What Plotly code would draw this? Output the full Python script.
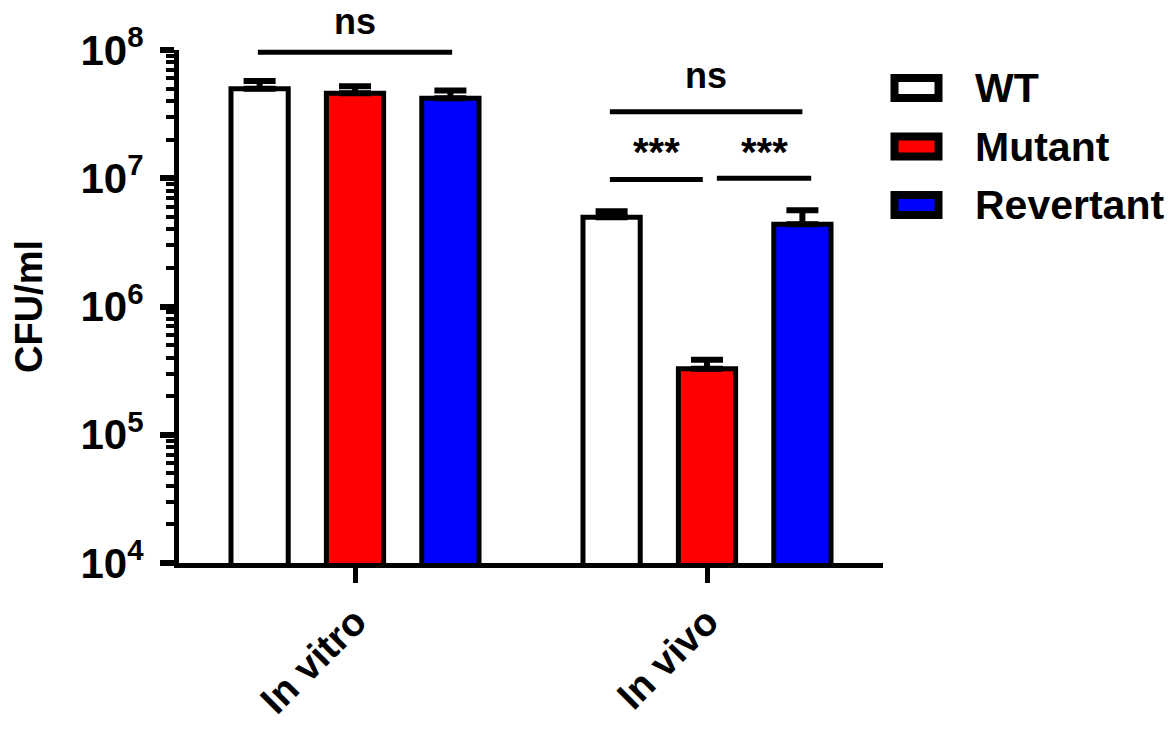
import math
import plotly.graph_objects as go

# ---- data ----
groups = ["In vitro", "In vivo"]
series = ["WT", "Mutant", "Revertant"]
colors = ["#ffffff", "#ff0000", "#0000ff"]

wt_mean = [4.98e7, 4.96e6]
wt_err = [7.6e6, 5.6e5]
mutant_mean = [4.59e7, 3.27e5]
mutant_err = [6.2e6, 5.8e4]
revertant_mean = [4.20e7, 4.38e6]
revertant_err = [6.4e6, 1.24e6]

means = [wt_mean, mutant_mean, revertant_mean]
errors = [wt_err, mutant_err, revertant_err]

y_tick_vals = [1e4, 1e5, 1e6, 1e7, 1e8]
y_tick_text = ["10<sup>4</sup>", "10<sup>5</sup>", "10<sup>6</sup>",
               "10<sup>7</sup>", "10<sup>8</sup>"]

# ---- layout constants ----
FONT = "Liberation Sans"
BARGAP = 0.187
BARGROUPGAP = 0.40
LOG_LO, LOG_HI = 4, 8
slot = (1 - BARGAP) / len(series)

# plot area in page pixels (page has an 8px body margin)
M_L, M_T, P_W, P_H = 171, 42, 704, 513
PX0, PY1 = 8 + M_L, 8 + M_T + P_H  # left edge / bottom edge on the page


def bar_x(group, idx):
    """center of bar idx inside group, in x-axis units"""
    return group + (idx - (len(series) - 1) / 2) * slot


def ypaper(v):
    return (math.log10(v) - LOG_LO) / (LOG_HI - LOG_LO)


fig = go.Figure()

x_pos = list(range(len(groups)))
for name, col, m, e in zip(series, colors, means, errors):
    fig.add_trace(
        go.Bar(
            name=name,
            x=x_pos,
            y=m,
            marker=dict(color=col, line=dict(color="black", width=5)),
            error_y=dict(
                type="data",
                array=e,
                arrayminus=[0] * len(e),
                symmetric=False,
                color="black",
                thickness=6,
                width=16,
            ),
            showlegend=False,
        )
    )

# significance brackets: (x0, x1, line level, text level, label, size)
brackets = [
    (bar_x(0, 0) - 0.005, bar_x(0, 2) + 0.005, 9.6e7, 1.66e8, "ns", 36),
    (bar_x(1, 0) - 0.005, bar_x(1, 2) + 0.0, 3.3e7, 6.3e7, "ns", 36),
    (bar_x(1, 0) - 0.005, bar_x(1, 1) - 0.012, 9.8e6, 1.6e7, "***", 40),
    (bar_x(1, 1) + 0.028, bar_x(1, 2) + 0.025, 1.0e7, 1.6e7, "***", 40),
]
for x0, x1, lvl, tlvl, label, size in brackets:
    fig.add_shape(
        type="line", xref="x", yref="paper",
        x0=x0, x1=x1, y0=ypaper(lvl), y1=ypaper(lvl),
        line=dict(color="black", width=5),
    )
    fig.add_annotation(
        xref="x", yref="paper", x=(x0 + x1) / 2, y=ypaper(tlvl),
        text=label, showarrow=False, yanchor="middle",
        font=dict(family=FONT, size=size, color="black", weight="bold"),
    )

# legend drawn by hand so the swatches match the big outlined boxes
for i, (name, col) in enumerate(zip(series, colors)):
    yc = (PY1 - (88 + i * 58.5)) / P_H
    fig.add_shape(
        type="rect", xref="paper", yref="paper",
        xsizemode="pixel", ysizemode="pixel",
        xanchor=(916.5 - PX0) / P_W, yanchor=yc,
        x0=-22, x1=22, y0=-10, y1=10,
        fillcolor=col, line=dict(color="black", width=8),
    )
    fig.add_annotation(
        xref="paper", yref="paper", x=(973 - PX0) / P_W, y=yc,
        text=name, showarrow=False, xanchor="left", yanchor="middle",
        font=dict(family=FONT, size=41, color="black", weight="bold"),
    )

fig.update_layout(
    width=1176,
    height=730,
    margin=dict(l=M_L, r=1176 - M_L - P_W, t=M_T, b=730 - M_T - P_H),
    paper_bgcolor="white",
    plot_bgcolor="white",
    barmode="group",
    bargap=BARGAP,
    bargroupgap=BARGROUPGAP,
    font=dict(family=FONT, color="black"),
)

fig.update_xaxes(
    range=[-0.5, 1.5],
    tickvals=x_pos,
    ticktext=groups,
    tickangle=-45,
    tickfont=dict(family=FONT, size=39, color="black", weight="bold"),
    showline=True, linecolor="black", linewidth=5,
    ticks="outside", ticklen=15, tickwidth=5, tickcolor="black",
    showgrid=False, zeroline=False,
)

fig.update_yaxes(
    type="log",
    range=[LOG_LO, LOG_HI],
    tickvals=y_tick_vals,
    ticktext=y_tick_text,
    tickfont=dict(family=FONT, size=42, color="black", weight="bold"),
    showline=True, linecolor="black", linewidth=5,
    ticks="outside", ticklen=14, tickwidth=6, tickcolor="black",
    minor=dict(ticks="outside", ticklen=8, tickwidth=4, tickcolor="black", dtick="D1"),
    ticklabelstandoff=8,
    showgrid=False, zeroline=False,
    title=dict(text="CFU/ml", standoff=28,
               font=dict(family=FONT, size=38, color="black", weight="bold")),
)

fig.write_html("out.html")
